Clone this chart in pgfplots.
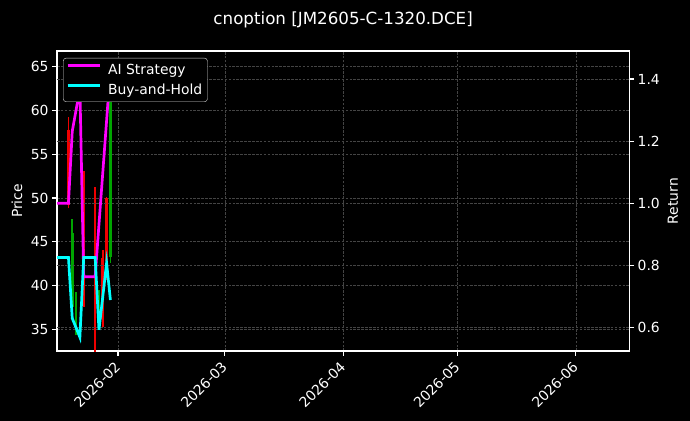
\documentclass[border=0pt]{standalone}
\usepackage{fontspec}
\setmainfont{DejaVu Sans}
\usepackage{pgfplots}
\pgfplotsset{compat=1.18}

\definecolor{candleup}{RGB}{0,165,0}
\definecolor{candledn}{RGB}{240,0,0}
\definecolor{gridc}{RGB}{68,68,68}
\definecolor{aimag}{RGB}{255,0,255}
\definecolor{bhcyan}{RGB}{0,255,255}
\newcommand\fs{\fontsize{13.9bp}{16.5bp}\selectfont}

\pgfplotsset{
  darkaxis/.style={
    scale only axis, width=572.3bp, height=300bp,
    at={(0,0)}, anchor=south west,
    xmin=15, xmax=165,
    axis line style={white, line width=1.1bp},
    every tick/.style={white, line width=1.1bp},
    tick align=outside, major tick length=4.9bp,
    ticklabel style={text=white, font=\fs},
    label style={text=white, font=\fs},
    /pgf/number format/assume math mode=true,
    major grid style={gridc, dash pattern=on 2.6bp off 1.3bp, line width=0.7bp},
  }
}

\begin{document}
\begin{tikzpicture}
\fill[black] (-57bp,-70bp) rectangle (633bp,351bp);

% price axis with candles (x = day of 2026, Jan 1 = 0)
\begin{axis}[darkaxis,
  ymin=32.52, ymax=66.79,
  ytick={35,40,45,50,55,60,65},
  xtick={31,59,90,120,151},
  xticklabels={2026-02,2026-03,2026-04,2026-05,2026-06},
  xtick pos=bottom, ytick pos=left,
  xticklabel style={rotate=45, anchor=south east, inner sep=0pt, xshift=-6bp, yshift=-11bp},
  xmajorgrids, ymajorgrids,
  ylabel={Price},
  ylabel style={at={(axis description cs:-0.0699,0.5)}, anchor=center},
  title={cnoption [JM2605-C-1320.DCE]},
  title style={text=white, font=\fontsize{16.7bp}{20bp}\selectfont, at={(0.5,1)}, anchor=center, yshift=25bp},
]
% wicks
\addplot[candledn, line width=1.6bp, unbounded coords=jump, forget plot] coordinates {
  (18,48.8) (18,59.2) (18,nan)
  (22,37.6) (22,53.1) (22,nan)
  (25,32.0) (25,51.3) (25,nan)
  (27,35.3) (27,44.1) (27,nan)
  (28,40.6) (28,50.1)
};
\addplot[candleup, line width=1.6bp, unbounded coords=jump, forget plot] coordinates {
  (19,36.5) (19,47.6) (19,nan)
  (20,34.3) (20,39.3) (20,nan)
  (26,35.5) (26,39.5) (26,nan)
  (29,42.6) (29,65.0)
};
% bodies
\addplot[candledn, line width=2.6bp, unbounded coords=jump, forget plot] coordinates {
  (18,57.8) (18,49.2) (18,nan)
  (22,52.0) (22,38.4) (22,nan)
  (25,50.6) (25,33.5) (25,nan)
  (27,43.2) (27,36.2) (27,nan)
  (28,50.0) (28,42.8)
};
\addplot[candleup, line width=2.6bp, unbounded coords=jump, forget plot] coordinates {
  (19,37.5) (19,46.0) (19,nan)
  (20,35.0) (20,38.6) (20,nan)
  (26,36.0) (26,39.0) (26,nan)
  (29,43.3) (29,63.5)
};
\end{axis}

% return axis
\begin{axis}[darkaxis,
  ymin=0.525, ymax=1.49,
  ytick={0.6,0.8,1.0,1.2,1.4},
  yticklabel style={/pgf/number format/.cd, fixed, fixed zerofill, precision=1},
  axis x line=none, axis y line*=right,
  xtick=\empty,
  ymajorgrids,
  ylabel={Return},
  ylabel style={at={(axis description cs:1.0764,0.5)}, anchor=center},
  legend style={at={(0.0105,0.977)}, anchor=north west, fill=black, draw=white!85!black,
    rounded corners=3bp, text=white, font=\fs,
    inner xsep=3bp, inner ysep=3.5bp, row sep=4bp,
    nodes={inner sep=2.2bp, fill=none},
    /tikz/every odd column/.append style={column sep=5bp}},
  legend cell align=left,
  legend image code/.code={\draw[#1, line width=2.7bp] (0bp,4.5bp) -- (32bp,4.5bp);},
]
\addplot[aimag, line width=2.7bp] coordinates {
  (15,1.0) (18,1.0) (19,1.232) (20,1.30) (21,1.37) (22,0.764) (25,0.764)
  (26,0.932) (27,1.099) (28,1.266) (29,1.434)
};
\addlegendentry{AI Strategy}
\addplot[bhcyan, line width=2.7bp] coordinates {
  (15,0.826) (18,0.826) (19,0.63) (20,0.60) (21,0.569) (22,0.826) (25,0.826)
  (26,0.593) (27,0.70) (28,0.808) (29,0.689)
};
\addlegendentry{Buy-and-Hold}
\end{axis}
\end{tikzpicture}
\end{document}
